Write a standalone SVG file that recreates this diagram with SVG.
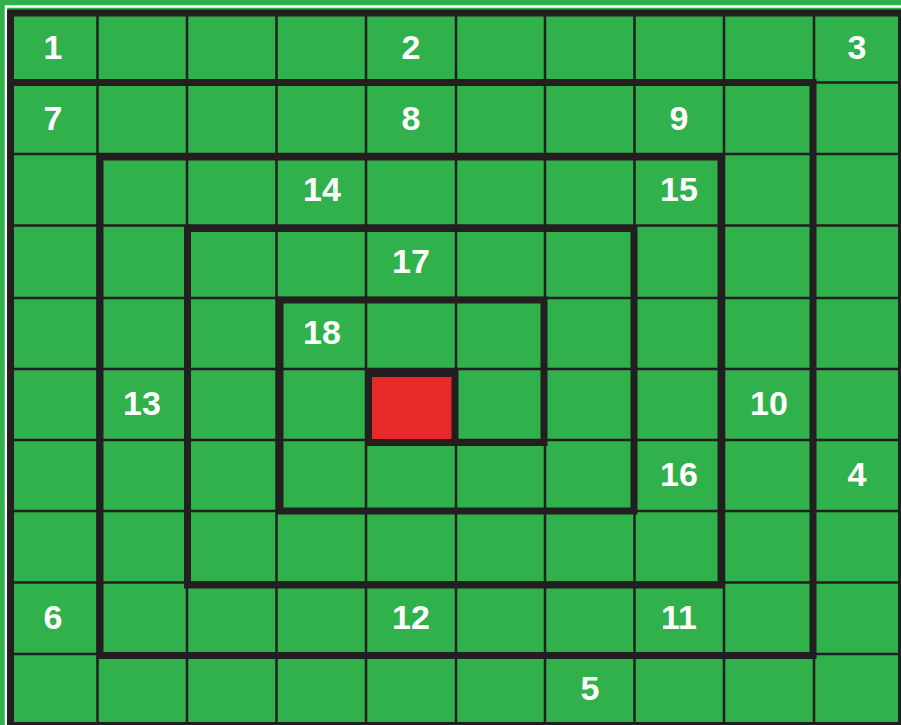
<svg xmlns="http://www.w3.org/2000/svg" width="901" height="725" viewBox="0 0 901 725">
<style>
.thin{stroke:#231F20;stroke-width:2.5;fill:none}
.thick{stroke:#231F20;stroke-width:7;fill:none;stroke-linejoin:miter;stroke-linecap:square}
.lbl{font-family:"Liberation Sans",Arial,sans-serif;font-weight:bold;font-size:34px;fill:#FFFFFF;text-anchor:middle}
</style>
<rect x="0" y="0" width="901" height="725" fill="#30B14B"/>
<rect x="6" y="6.5" width="910" height="730" fill="none" stroke="#FFFFFF" stroke-width="2.5"/>
<g id="grid">
<path class="thin" d="M97.5 13V725M187 13V725M276.5 13V725M366 13V725M456 13V725M545 13V725M634.5 13V725M724 13V725M814 13V725"/>
<path class="thin" d="M10 82.5H901M10 154H901M10 225.5H901M10 298H901M10 369H901M10 440H901M10 511H901M10 582.5H901M10 654H901"/>
</g>
<rect id="center" x="368.5" y="373.5" width="86.5" height="69" fill="#E8292A" stroke="#231F20" stroke-width="7"/>
<g id="spiral">
<rect class="thick" x="10.5" y="13" width="891" height="712.5"/>
<path class="thick" d="M14 82.5H813V655.5H100V157H721V585H187.5V228.5H634V511H280V300H544V442.5H456"/>
</g>
<g id="labels">
<g id="cell-1"><text class="lbl" x="53" y="59">1</text></g>
<g id="cell-2"><text class="lbl" x="411" y="59">2</text></g>
<g id="cell-3"><text class="lbl" x="857" y="59">3</text></g>
<g id="cell-7"><text class="lbl" x="53" y="130">7</text></g>
<g id="cell-8"><text class="lbl" x="411" y="130">8</text></g>
<g id="cell-9"><text class="lbl" x="679" y="130">9</text></g>
<g id="cell-14"><text class="lbl" x="322" y="201">14</text></g>
<g id="cell-15"><text class="lbl" x="679" y="201">15</text></g>
<g id="cell-17"><text class="lbl" x="411" y="273">17</text></g>
<g id="cell-18"><text class="lbl" x="322" y="344">18</text></g>
<g id="cell-13"><text class="lbl" x="142" y="415">13</text></g>
<g id="cell-10"><text class="lbl" x="769" y="415">10</text></g>
<g id="cell-16"><text class="lbl" x="679" y="486">16</text></g>
<g id="cell-4"><text class="lbl" x="857" y="486">4</text></g>
<g id="cell-6"><text class="lbl" x="53" y="629">6</text></g>
<g id="cell-12"><text class="lbl" x="411" y="629">12</text></g>
<g id="cell-11"><text class="lbl" x="679" y="629">11</text></g>
<g id="cell-5"><text class="lbl" x="590" y="700">5</text></g>
</g>
</svg>
